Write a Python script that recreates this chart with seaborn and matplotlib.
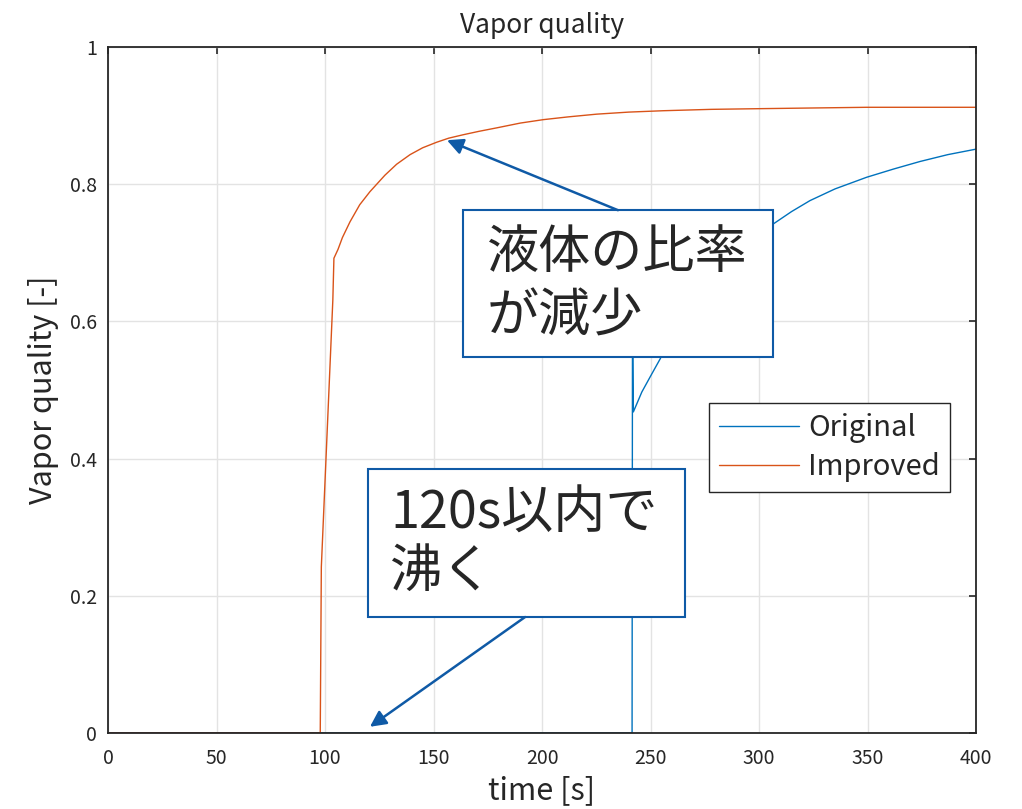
import pandas as pd
import matplotlib.pyplot as plt
import matplotlib.patches as patches
import seaborn as sns

# ---- data ----
time_original = [0, 50, 100, 150, 200, 241.5, 241.7, 242.1, 246, 250, 254.4, 260, 270,
                 280, 290, 300, 306.6, 315, 323.5, 335, 349.6, 362, 374.2, 387, 400]
quality_original = [0, 0, 0, 0, 0, 0, 0.62, 0.468, 0.497, 0.520, 0.545, 0.580, 0.630,
                    0.668, 0.698, 0.724, 0.742, 0.760, 0.776, 0.793, 0.810, 0.822,
                    0.833, 0.843, 0.851]

time_improved = [0, 50, 97.8, 98.3, 103.6, 104.1, 106, 108, 111.5, 116, 120.7, 127.6,
                 133, 139.2, 145, 151.4, 157, 163.7, 171, 179.1, 190, 200.6, 212,
                 225.2, 240, 255.9, 278, 300.5, 325, 349.6, 375, 400]
quality_improved = [0, 0, 0, 0.242, 0.631, 0.692, 0.705, 0.722, 0.745, 0.770, 0.789,
                    0.813, 0.829, 0.843, 0.853, 0.861, 0.867, 0.872, 0.877, 0.882,
                    0.889, 0.894, 0.898, 0.902, 0.905, 0.907, 0.909, 0.910, 0.911,
                    0.912, 0.912, 0.912]

x_ticks = [0, 50, 100, 150, 200, 250, 300, 350, 400]
y_ticks = [0, 0.2, 0.4, 0.6, 0.8, 1]
y_tick_labels = ["0", "0.2", "0.4", "0.6", "0.8", "1"]

df = pd.concat([
    pd.DataFrame({"time": time_original, "quality": quality_original, "case": "Original"}),
    pd.DataFrame({"time": time_improved, "quality": quality_improved, "case": "Improved"}),
])

# ---- style ----
sns.set_style("whitegrid")
plt.rcParams["font.family"] = ["Noto Sans CJK JP", "DejaVu Sans"]

fig = plt.figure(figsize=(10.22, 8.09), dpi=100)
ax = fig.add_axes([0.1057, 0.094, 0.8493, 0.848])

sns.lineplot(data=df, x="time", y="quality", hue="case", estimator=None, sort=False,
             palette={"Original": "#0072BD", "Improved": "#D95319"}, linewidth=1.0, ax=ax)

ax.set_xlim(0, 400)
ax.set_ylim(0, 1)
ax.set_xticks(x_ticks)
ax.set_yticks(y_ticks)
ax.set_yticklabels(y_tick_labels)
ax.tick_params(direction="in", length=5, width=1.2, colors="#262626", labelsize=14,
               top=True, right=True, pad=8)
ax.tick_params(axis="x", pad=11)
ax.grid(True, color="#E3E3E3", linewidth=1.0)
for s in ax.spines.values():
    s.set_color("#262626")
    s.set_linewidth(1.3)

ax.set_title("Vapor quality", fontsize=19, pad=10)
ax.set_xlabel("time [s]", fontsize=22, labelpad=4)
ax.set_ylabel("Vapor quality [-]", fontsize=22, labelpad=8)

leg = ax.legend(loc="upper left", bbox_to_anchor=(0.692, 0.481), borderaxespad=0,
                fontsize=21, fancybox=False, framealpha=1, edgecolor="#262626",
                handlelength=2.75, handletextpad=0.3, borderpad=0.35, labelspacing=0.3)
leg.get_frame().set_linewidth(1.0)

# ---- annotations ----
box_color = "#0F5AA6"
# box 1
ax.add_patch(patches.Rectangle((163.6, 0.548), 142.9, 0.214, facecolor="white",
                               edgecolor=box_color, linewidth=1.5, zorder=5))
ax.text(174.7, 0.700, "液体の比率", fontsize=37.5, va="center", ha="left", zorder=6)
ax.text(174.7, 0.606, "が減少", fontsize=37.5, va="center", ha="left", zorder=6)
ax.annotate("", xy=(156.2, 0.864), xytext=(235.0, 0.762),
            arrowprops=dict(arrowstyle="-|>", color=box_color, lw=1.8,
                            mutation_scale=24, shrinkA=0, shrinkB=0), zorder=6)
# box 2
ax.add_patch(patches.Rectangle((119.8, 0.169), 146.1, 0.216, facecolor="white",
                               edgecolor=box_color, linewidth=1.5, zorder=5))
ax.text(130.0, 0.319, "120s以内で", fontsize=37.5, va="center", ha="left", zorder=6)
ax.text(130.0, 0.234, "沸く", fontsize=37.5, va="center", ha="left", zorder=6)
ax.annotate("", xy=(120.7, 0.009), xytext=(192.2, 0.169),
            arrowprops=dict(arrowstyle="-|>", color=box_color, lw=1.8,
                            mutation_scale=24, shrinkA=0, shrinkB=0), zorder=6)

fig.savefig("out.png", dpi=100)
